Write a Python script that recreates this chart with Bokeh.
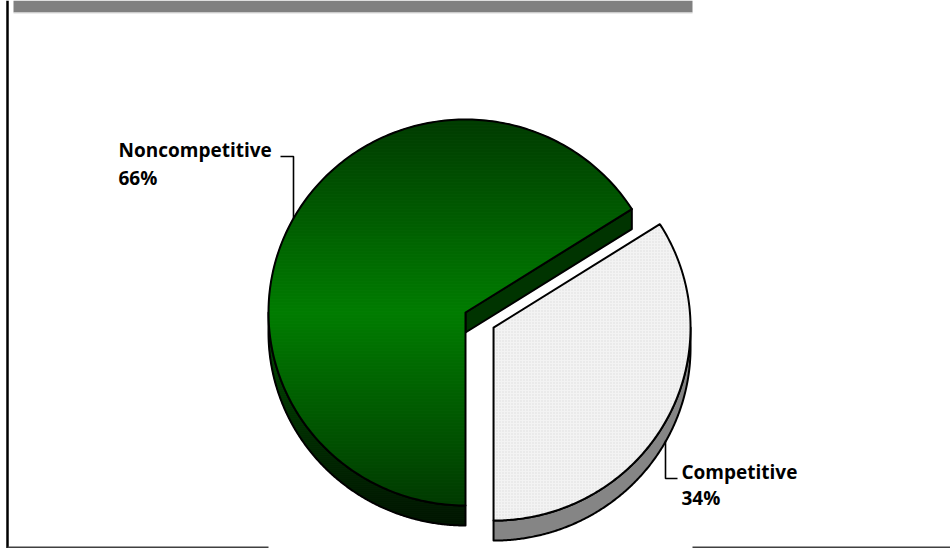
import numpy as np
from bokeh.plotting import figure
from bokeh.models import Range1d
from bokeh.core.properties import value
from bokeh.embed import file_html
from bokeh.resources import INLINE

# Share of items by type
categories = ["Noncompetitive", "Competitive"]
shares = [66, 34]
label_text = [f"{c}\n{s}%" for c, s in zip(categories, shares)]

W, H = 950, 548
p = figure(width=W, height=H, x_range=Range1d(0, W), y_range=Range1d(H, 0),
           output_backend="svg", toolbar_location=None, min_border=0,
           x_axis_type=None, y_axis_type=None, outline_line_color=None,
           background_fill_color="white", border_fill_color="white")
p.grid.visible = False

# slide frame: grey header band, left rule, bottom rule
p.quad(left=13, right=692, top=0, bottom=12, fill_color="#808080", line_color=None)
p.segment(x0=[13], y0=[12.5], x1=[692], y1=[12.5], line_color="#d8d8d8", line_width=1)
p.segment(x0=[7], y0=[0], x1=[7], y1=[H], line_color="black", line_width=2.5)
p.segment(x0=[7, 692], y0=[547, 547], x1=[268, W], y1=[547, 547],
          line_color="#404040", line_width=2)

# tilted pie geometry (screen pixels, y grows downward)
cx, cy = 465.0, 312.0
rx, ry = 197.0, 193.0
depth = 20.0
explode = 32.0
start = 270.0  # first slice starts at six o'clock, runs clockwise

fracs = np.array(shares, dtype=float) / sum(shares)
bounds = start - 360.0 * np.concatenate([[0], np.cumsum(fracs)])


def pt(x0, y0, th):
    r = np.radians(th)
    return x0 + rx * np.cos(r), y0 - ry * np.sin(r)


def arc(x0, y0, a0, a1, n=240, dy=0.0):
    th = np.radians(np.linspace(a0, a1, n))
    return list(zip(x0 + rx * np.cos(th), y0 - ry * np.sin(th) + dy))


def clip(poly, keep, cross):
    out = []
    for i in range(len(poly)):
        a, b = poly[i - 1], poly[i]
        ia, ib = keep(a), keep(b)
        if ib:
            if not ia:
                out.append(cross(a, b))
            out.append(b)
        elif ia:
            out.append(cross(a, b))
    return out


def band(poly, y0, y1):
    def cut(yc):
        def f(a, b):
            t = (yc - a[1]) / (b[1] - a[1])
            return (a[0] + t * (b[0] - a[0]), yc)
        return f
    q = clip(poly, lambda q_: q_[1] >= y0, cut(y0))
    if not q:
        return q
    return clip(q, lambda q_: q_[1] <= y1, cut(y1))


def mix(c0, c1, t):
    c = [int(round(a + (b - a) * t)) for a, b in zip(c0, c1)]
    return "#%02x%02x%02x" % tuple(c)


def gradient(poly, mid, half, light, dark, step=3.0):
    xs, ys, cols = [], [], []
    ymin = min(q[1] for q in poly)
    ymax = max(q[1] for q in poly)
    y = ymin
    while y < ymax:
        seg = band(poly, y, y + step)
        if len(seg) >= 3:
            t = min(1.0, abs((y + step / 2 - mid) / half))
            xs.append([q[0] for q in seg])
            ys.append([q[1] for q in seg])
            cols.append(mix(light, dark, t))
        y += step
    p.patches(xs, ys, fill_color=cols, line_color=cols, line_width=0.8)


def outline(poly, width=2.0):
    p.patches([[q[0] for q in poly]], [[q[1] for q in poly]],
              fill_alpha=0, line_color="black", line_width=width, line_join="round")


# slice 0: Noncompetitive (green), slice 1: Competitive (white, pulled out)
g0, g1 = bounds[0], bounds[1]
w0, w1 = bounds[1], bounds[2]
mid_w = np.radians((w0 + w1) / 2)
wx = cx + explode * np.cos(mid_w)
wy = cy - explode * np.sin(mid_w) * ry / rx

# green side wall (front-left arc)
g_wall = arc(cx, cy, 180, g0) + arc(cx, cy, g0, 180, dy=depth)
gradient(g_wall, cy, ry + depth, (0, 0x4c, 0), (0, 0x14, 0), step=2.0)
outline(g_wall)

# green cut face toward the pulled-out slice
ex, ey = pt(cx, cy, g1)
g_cut = [(cx, cy), (ex, ey), (ex, ey + depth), (cx, cy + depth)]
p.patches([[q[0] for q in g_cut]], [[q[1] for q in g_cut]],
          fill_color="#003400", line_color="black", line_width=2, line_join="round")

# green top face
g_top = [(cx, cy)] + arc(cx, cy, g0, g1)
gradient(g_top, cy, ry, (0, 0x7c, 0), (0, 0x3a, 0))
outline(g_top)

# white slice side wall (front-right arc)
w_wall = arc(wx, wy, w1, 0) + arc(wx, wy, 0, w1, dy=depth)
p.patches([[q[0] for q in w_wall]], [[q[1] for q in w_wall]],
          fill_color="#858585", line_color="black", line_width=2, line_join="round")

# white slice top face
w_top = [(wx, wy)] + arc(wx, wy, w0, w1)
p.patches([[q[0] for q in w_top]], [[q[1] for q in w_top]],
          fill_color="#f3f3f3", hatch_pattern=".", hatch_color="#dcdcdc",
          hatch_scale=3, hatch_weight=0.6,
          line_color="black", line_width=2, line_join="round")

# leader lines
p.line([280, 293, 293], [156, 156, 218], line_color="black", line_width=1.6)
p.line([665, 665, 677], [440, 478, 478], line_color="black", line_width=1.6)

# data labels
lines0 = label_text[0].split("\n")
lines1 = label_text[1].split("\n")
p.text(x=[118, 118], y=[149, 177], text=lines0, text_font=value("Open Sans"),
       text_font_style="bold", text_font_size="19px", text_color="black",
       text_baseline="alphabetic", text_align="left")
p.text(x=[681, 681], y=[471, 497], text=lines1, text_font=value("Open Sans"),
       text_font_style="bold", text_font_size="19px", text_color="black",
       text_baseline="alphabetic", text_align="left")

open("out.html", "w").write(file_html(p, INLINE))
